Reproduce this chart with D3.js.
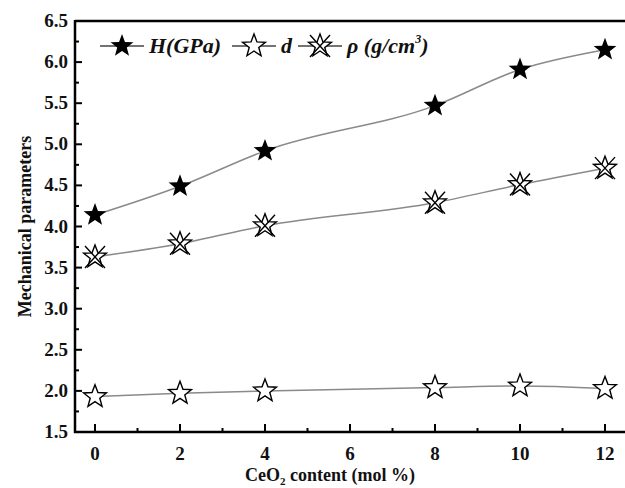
<!doctype html>
<html lang="en">
<head>
	<meta charset="UTF-8">
	<title>Mechanical parameters vs CeO2 content</title>
	<style>
		body { margin: 0; background: #fff; }
		svg { display: block; }
		text { font-family: "Liberation Serif", "Times New Roman", serif; font-weight: bold; fill: #111; }
		.series-line { fill: none; stroke: #8a8a8a; stroke-width: 1.5; }
	</style>
</head>
<body>
	<script src="https://cdn.jsdelivr.net/npm/d3@7"></script>
	<script>
		// data
		var xContent = [0, 2, 4, 8, 10, 12];
		var hardness = [4.14, 4.49, 4.92, 5.47, 5.91, 6.15];
		var density = [1.93, 1.97, 2.00, 2.04, 2.06, 2.03];
		var rho = [3.63, 3.79, 4.01, 4.29, 4.51, 4.71];
		var xTicks = [0, 2, 4, 6, 8, 10, 12];
		var yTicks = [1.5, 2.0, 2.5, 3.0, 3.5, 4.0, 4.5, 5.0, 5.5, 6.0, 6.5];

		var w = 625,
			h = 488,
			plotLeft = 75,
			plotTop = 21,
			plotBottom = 432;

		var svg = d3.select('body').append('svg')
			.attr('width', w)
			.attr('height', h);

		var xScale = d3.scaleLinear().domain([0, 12]).range([95, 605]);
		var yScale = d3.scaleLinear().domain([1.5, 6.5]).range([plotBottom, plotTop]);

		/**
		* path for a 5 pointed star
		*/
		var starPath = function(r) {
			var pts = [];
			for (var i = 0; i < 10; i++) {
				var rad = i % 2 === 0 ? r : r * 0.42;
				var a = -Math.PI / 2 + i * Math.PI / 5;
				pts.push([rad * Math.cos(a), rad * Math.sin(a)]);
			}
			return 'M' + pts.map(function(p) { return p[0].toFixed(2) + ',' + p[1].toFixed(2); }).join('L') + 'Z';
		};

		var drawMarker = function(g, kind) {
			if (kind === 'filled') {
				g.append('path').attr('d', starPath(12)).attr('fill', '#000');
			} else {
				g.append('path').attr('d', starPath(12))
					.attr('fill', '#fff').attr('stroke', '#000').attr('stroke-width', 1.4)
					.attr('stroke-linejoin', 'miter');
				if (kind === 'cross') {
					g.append('path').attr('d', 'M-10,-11L10,11M10,-11L-10,11')
						.attr('stroke', '#000').attr('stroke-width', 1.4);
				}
			}
		};

		// frame and ticks
		svg.append('path')
			.attr('d', 'M' + plotLeft + ',' + plotTop + 'L' + (w + 10) + ',' + plotTop)
			.attr('stroke', '#000').attr('stroke-width', 2.5);
		svg.append('path')
			.attr('d', 'M' + plotLeft + ',' + (plotTop - 1) + 'L' + plotLeft + ',' + plotBottom + 'L' + (w + 10) + ',' + plotBottom)
			.attr('fill', 'none').attr('stroke', '#000').attr('stroke-width', 2.5);

		var xMinor = [1, 3, 5, 7, 9, 11];
		svg.selectAll('.xmajor').data(xTicks).enter().append('line')
			.attr('x1', function(d) { return xScale(d); }).attr('x2', function(d) { return xScale(d); })
			.attr('y1', plotBottom).attr('y2', plotBottom - 8)
			.attr('stroke', '#000').attr('stroke-width', 2);
		svg.selectAll('.xminor').data(xMinor).enter().append('line')
			.attr('x1', function(d) { return xScale(d); }).attr('x2', function(d) { return xScale(d); })
			.attr('y1', plotBottom).attr('y2', plotBottom - 4)
			.attr('stroke', '#000').attr('stroke-width', 2);

		var yMinor = d3.range(1.75, 6.5, 0.5);
		svg.selectAll('.ymajor').data(yTicks).enter().append('line')
			.attr('x1', plotLeft).attr('x2', plotLeft + 7)
			.attr('y1', function(d) { return yScale(d); }).attr('y2', function(d) { return yScale(d); })
			.attr('stroke', '#000').attr('stroke-width', 2);
		svg.selectAll('.yminor').data(yMinor).enter().append('line')
			.attr('x1', plotLeft).attr('x2', plotLeft + 4)
			.attr('y1', function(d) { return yScale(d); }).attr('y2', function(d) { return yScale(d); })
			.attr('stroke', '#000').attr('stroke-width', 2);

		// tick labels
		svg.selectAll('.xlab').data(xTicks).enter().append('text')
			.attr('x', function(d) { return xScale(d); })
			.attr('y', plotBottom + 28)
			.attr('text-anchor', 'middle')
			.attr('font-size', 19)
			.text(function(d) { return d; });
		svg.selectAll('.ylab').data(yTicks).enter().append('text')
			.attr('x', plotLeft - 7)
			.attr('y', function(d) { return yScale(d) + 6; })
			.attr('text-anchor', 'end')
			.attr('font-size', 19)
			.text(function(d) { return d.toFixed(1); });

		// axis titles
		var xTitle = svg.append('text')
			.attr('x', 330).attr('y', 481)
			.attr('text-anchor', 'middle')
			.attr('font-size', 18);
		xTitle.append('tspan').text('CeO');
		xTitle.append('tspan').attr('font-size', 11).attr('dy', 4).text('2');
		xTitle.append('tspan').attr('dy', -4).text(' content (mol %)');

		svg.append('text')
			.attr('transform', 'translate(31,' + ((plotTop + plotBottom) / 2) + ') rotate(-90)')
			.attr('text-anchor', 'middle')
			.attr('font-size', 18)
			.text('Mechanical parameters');

		// series
		var series = [
			{ values: hardness, kind: 'filled' },
			{ values: density, kind: 'open' },
			{ values: rho, kind: 'cross' }
		];

		var line = d3.line()
			.x(function(d) { return xScale(d[0]); })
			.y(function(d) { return yScale(d[1]); })
			.curve(d3.curveMonotoneX);

		series.forEach(function(s) {
			var pts = xContent.map(function(x, i) { return [x, s.values[i]]; });
			svg.append('path').attr('class', 'series-line').attr('d', line(pts));
			pts.forEach(function(p) {
				var g = svg.append('g').attr('transform', 'translate(' + xScale(p[0]) + ',' + yScale(p[1]) + ')');
				drawMarker(g, s.kind);
			});
		});

		// legend
		var legendY = 46;
		var legendItems = [
			{ kind: 'filled', x: 100, label: 'H(GPa)' },
			{ kind: 'open', x: 232, label: 'd' },
			{ kind: 'cross', x: 298, label: 'ρ (g/cm' }
		];
		legendItems.forEach(function(item) {
			svg.append('line')
				.attr('x1', item.x).attr('x2', item.x + 44)
				.attr('y1', legendY).attr('y2', legendY)
				.attr('stroke', '#444').attr('stroke-width', 1.4);
			var g = svg.append('g').attr('transform', 'translate(' + (item.x + 22) + ',' + legendY + ')');
			drawMarker(g, item.kind);
			var t = svg.append('text')
				.attr('x', item.x + 49).attr('y', legendY + 7)
				.attr('font-size', 22)
				.attr('font-style', 'italic');
			t.append('tspan').text(item.label);
			if (item.kind === 'cross') {
				t.append('tspan').attr('font-size', 12).attr('dy', -10).text('3');
				t.append('tspan').attr('dy', 10).text(')');
			}
		});
	</script>
</body>
</html>
